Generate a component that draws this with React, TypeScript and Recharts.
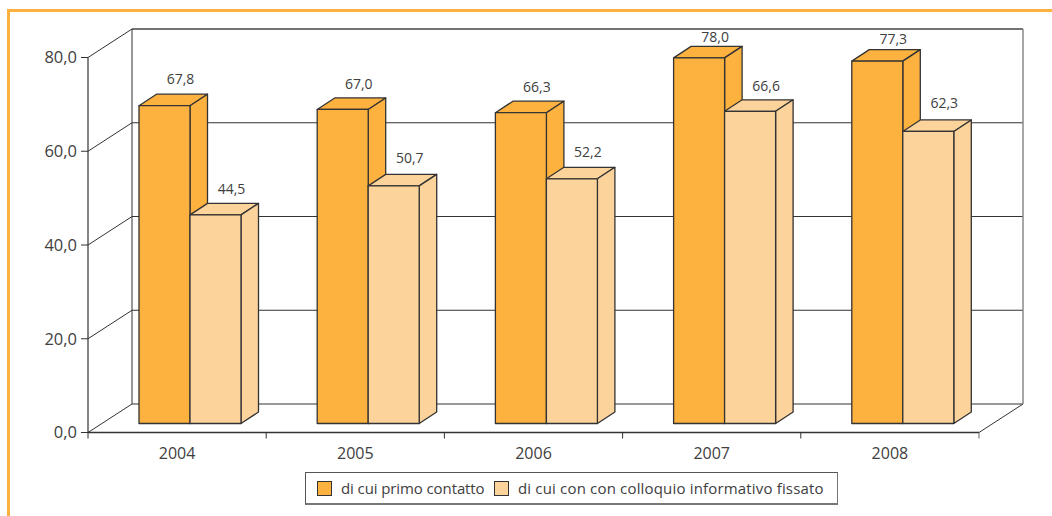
import React from 'react';
import { BarChart, Bar, XAxis, YAxis, CartesianGrid, Legend, LabelList } from 'recharts';

const years = ['2004', '2005', '2006', '2007', '2008'];
const primoContatto = [67.8, 67.0, 66.3, 78.0, 77.3];
const colloquioFissato = [44.5, 50.7, 52.2, 66.6, 62.3];
const yTicks = [0, 20, 40, 60, 80];

const rows = years.map((year, i) => ({ year, primo: primoContatto[i], colloquio: colloquioFissato[i] }));

const W = 1052, H = 516;
const PLOT_LEFT = 88, PLOT_RIGHT = 979, PLOT_TOP = 57.5, PLOT_BOTTOM = 432.5;
const BAND = (PLOT_RIGHT - PLOT_LEFT) / years.length;
const WALL_DX = 44, WALL_DY = 28.5;
const BAR_SHIFT_X = 13, BAR_SHIFT_Y = 9;
const BAR_DX = 17.5, BAR_DY = 11.5;
const ORANGE = '#FDB240', PEACH = '#FDD39C', INK = '#333333', TEXT = '#404040';
const FONT = '"Open Sans", sans-serif';

// Label placement tweaks (pixels above the bar's front top edge)
const liftPrimo = [27, 25, 26, 21, 22];
const liftColloquio = [26, 28, 27, 25, 28];

const fmt = (v: number) => v.toFixed(1).replace('.', ',');

const Box3D = (p: any) => {
  const x = p.x + BAR_SHIFT_X, y = p.y - BAR_SHIFT_Y, w = p.width, h = p.height;
  const dx = BAR_DX, dy = BAR_DY;
  const common = { fill: p.fill, stroke: INK, strokeWidth: 1.3, strokeLinejoin: 'round' as const };
  return (
    <g>
      <polygon {...common} points={`${x},${y} ${x + dx},${y - dy} ${x + w + dx},${y - dy} ${x + w},${y}`} />
      <polygon {...common} points={`${x + w},${y} ${x + w + dx},${y - dy} ${x + w + dx},${y + h - dy} ${x + w},${y + h}`} />
      <rect {...common} x={x} y={y} width={w} height={h} />
    </g>
  );
};

const makeLabel = (lift: number[]) => (p: any) => (
  <text
    x={p.x + p.width / 2 + BAR_SHIFT_X + 16}
    y={p.y - BAR_SHIFT_Y - lift[p.index] + 5}
    textAnchor="middle"
    fontFamily={FONT}
    fontSize={14}
    fill={TEXT}
  >
    {fmt(Number(p.value))}
  </text>
);

const GridLine = (p: any) => {
  const { x1, y1, x2 } = p;
  const bx1 = x1 + WALL_DX, bx2 = x2 + WALL_DX, by = y1 - WALL_DY;
  const isTop = Math.abs(y1 - PLOT_TOP) < 1;
  const isFloor = Math.abs(y1 - PLOT_BOTTOM) < 1;
  return (
    <g fill="none">
      <line x1={x1} y1={y1} x2={bx1} y2={by} stroke={INK} strokeWidth={1} />
      <line x1={bx1} y1={by} x2={bx2} y2={by} stroke={isTop ? '#444' : INK} strokeWidth={isTop ? 1.4 : 1} />
      {isTop && (
        <>
          <line x1={bx1} y1={by} x2={bx1} y2={PLOT_BOTTOM - WALL_DY} stroke={INK} strokeWidth={1} />
          <line x1={bx2} y1={by} x2={bx2} y2={PLOT_BOTTOM - WALL_DY} stroke="#888" strokeWidth={1.5} />
        </>
      )}
      {isFloor && <line x1={x2} y1={y1} x2={bx2} y2={by} stroke={INK} strokeWidth={1} />}
    </g>
  );
};

const XTick = (p: any) => {
  const { x, y, payload, index } = p;
  const left = x - BAND / 2, right = x + BAND / 2;
  return (
    <g>
      <line x1={left} y1={y} x2={left} y2={y + 6} stroke={INK} />
      {index === years.length - 1 && <line x1={right} y1={y} x2={right} y2={y + 6} stroke="#666" />}
      <text x={x} y={y + 26} textAnchor="middle" fontFamily={FONT} fontSize={16} fill={TEXT}>
        {payload.value}
      </text>
    </g>
  );
};

const LegendBox = ({ payload }: any) => {
  const items = payload || [];
  const widths = [177, 330];
  const tracking = [-0.1, 0.17];
  return (
    <div
      style={{
        boxSizing: 'border-box',
        width: 533,
        height: 33,
        border: '1px solid #555',
        borderRightColor: '#777',
        borderBottom: '2px solid #777',
        background: '#fff',
        display: 'flex',
        alignItems: 'center',
        paddingLeft: 11,
        fontFamily: FONT,
        fontSize: 15,
        color: TEXT,
        whiteSpace: 'nowrap',
      }}
    >
      {items.map((it: any, i: number) => (
        <div key={it.value} style={{ display: 'flex', alignItems: 'center', width: widths[i], flex: `0 0 ${widths[i]}px` }}>
          <span
            style={{
              display: 'inline-block',
              boxSizing: 'border-box',
              flex: '0 0 15px',
              width: 15,
              height: 15,
              background: it.color,
              border: `1px solid ${INK}`,
              marginRight: 9,
            }}
          />
          <span style={{ letterSpacing: tracking[i] }}>{it.value}</span>
        </div>
      ))}
    </div>
  );
};

export default function App() {
  return (
    <div style={{ position: 'absolute', left: 0, top: 0, width: W, height: H, overflow: 'hidden', background: '#fff' }}>
      <div
        style={{
          position: 'absolute',
          left: 7,
          top: 9,
          right: 0,
          bottom: 0,
          borderTop: `3px solid ${ORANGE}`,
          borderLeft: `3px solid ${ORANGE}`,
        }}
      />
      <BarChart
        width={W}
        height={H}
        data={rows}
        margin={{ top: PLOT_TOP, right: W - PLOT_RIGHT, bottom: H - PLOT_BOTTOM - 40, left: PLOT_LEFT - 80 }}
        barSize={51}
        barGap={0}
        style={{ position: 'absolute', left: 0, top: 0 }}
      >
        <CartesianGrid horizontal={GridLine as any} vertical={false} />
        <XAxis
          dataKey="year"
          height={40}
          interval={0}
          tick={XTick as any}
          tickLine={false}
          tickSize={0}
          tickMargin={0}
          axisLine={{ stroke: INK, strokeWidth: 1.4 }}
        />
        <YAxis
          width={80}
          domain={[0, 80]}
          ticks={yTicks}
          tickFormatter={fmt}
          tickSize={7}
          tickMargin={4}
          tick={{ fontFamily: FONT, fontSize: 16.5, fill: TEXT }}
          tickLine={{ stroke: INK }}
          axisLine={{ stroke: INK, strokeWidth: 1.2 }}
        />
        <Legend
          layout="horizontal"
          verticalAlign="middle"
          align="center"
          itemSorter={null as any}
          content={LegendBox as any}
          wrapperStyle={{ left: 305, top: 472, width: 533, height: 33 }}
        />
        <Bar dataKey="primo" name="di cui primo contatto" fill={ORANGE} shape={Box3D} isAnimationActive={false}>
          <LabelList dataKey="primo" content={makeLabel(liftPrimo) as any} />
        </Bar>
        <Bar dataKey="colloquio" name="di cui con con colloquio informativo fissato" fill={PEACH} shape={Box3D} isAnimationActive={false}>
          <LabelList dataKey="colloquio" content={makeLabel(liftColloquio) as any} />
        </Bar>
      </BarChart>
    </div>
  );
}
